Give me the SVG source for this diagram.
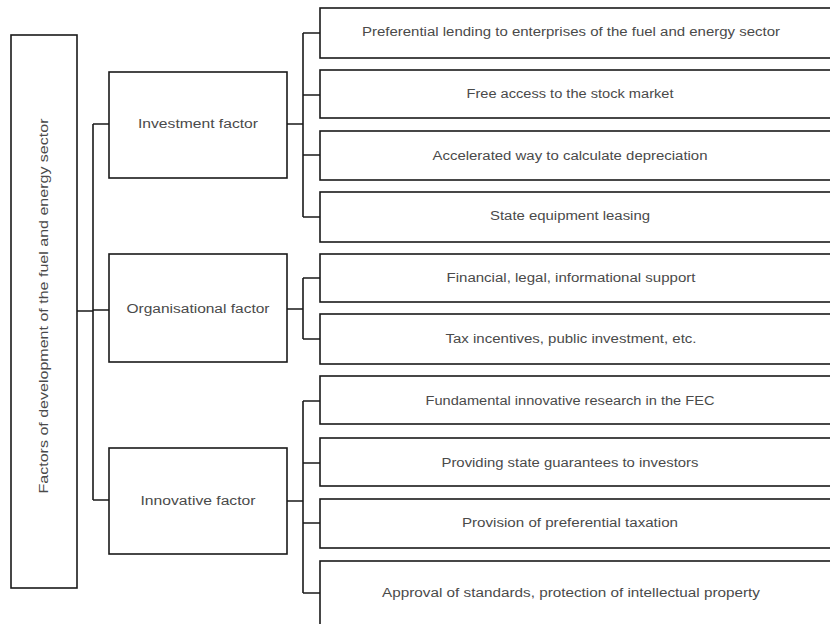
<svg xmlns="http://www.w3.org/2000/svg" width="830" height="624" viewBox="0 0 830 624">
<style>
rect{fill:#fff;stroke:#1a1a1a;stroke-width:1.6}
.c{fill:none;stroke:#1a1a1a;stroke-width:1.6}
text{font-family:"Liberation Sans",Arial,sans-serif;font-size:12.5px;fill:#4a4a4a;text-anchor:middle;dominant-baseline:central}
</style>
<rect x="0" y="0" width="830" height="624" style="stroke:none"/>
<g id="connectors">
<path class="c" d="M77 311H93M93 124V500M93 124H109M93 310H109M93 500H109"/>
<path class="c" d="M287 124H303M303 33V217M303 33H320M303 95H320M303 155H320M303 217H320"/>
<path class="c" d="M287 309H303M303 278V339M303 278H320M303 339H320"/>
<path class="c" d="M287 501H303M303 401V593M303 401H320M303 463H320M303 523H320M303 593H320"/>
</g>
<g id="root"><rect x="11" y="35" width="66" height="553"/><text transform="translate(44 306) rotate(-90)" textLength="375" lengthAdjust="spacingAndGlyphs">Factors of development of the fuel and energy sector</text></g>
<g id="investment"><rect x="109" y="72" width="178" height="106"/><text x="198" y="124" textLength="120" lengthAdjust="spacingAndGlyphs">Investment factor</text></g>
<g id="organisational"><rect x="109" y="254" width="178" height="108"/><text x="198" y="309" textLength="143" lengthAdjust="spacingAndGlyphs">Organisational factor</text></g>
<g id="innovative"><rect x="109" y="448" width="178" height="106"/><text x="198" y="501" textLength="115" lengthAdjust="spacingAndGlyphs">Innovative factor</text></g>
<g id="i1"><rect x="320" y="8" width="512" height="50"/><text x="571" y="32" textLength="418" lengthAdjust="spacingAndGlyphs">Preferential lending to enterprises of the fuel and energy sector</text></g>
<g id="i2"><rect x="320" y="70" width="512" height="48"/><text x="570" y="94" textLength="207" lengthAdjust="spacingAndGlyphs">Free access to the stock market</text></g>
<g id="i3"><rect x="320" y="131" width="512" height="49"/><text x="570" y="156" textLength="275" lengthAdjust="spacingAndGlyphs">Accelerated way to calculate depreciation</text></g>
<g id="i4"><rect x="320" y="192" width="512" height="50"/><text x="570" y="216" textLength="160" lengthAdjust="spacingAndGlyphs">State equipment leasing</text></g>
<g id="o1"><rect x="320" y="254" width="512" height="48"/><text x="571" y="278" textLength="249" lengthAdjust="spacingAndGlyphs">Financial, legal, informational support</text></g>
<g id="o2"><rect x="320" y="314" width="512" height="50"/><text x="571" y="339" textLength="251" lengthAdjust="spacingAndGlyphs">Tax incentives, public investment, etc.</text></g>
<g id="n1"><rect x="320" y="376" width="512" height="48"/><text x="570" y="401" textLength="289" lengthAdjust="spacingAndGlyphs">Fundamental innovative research in the FEC</text></g>
<g id="n2"><rect x="320" y="438" width="512" height="48"/><text x="570" y="463" textLength="257" lengthAdjust="spacingAndGlyphs">Providing state guarantees to investors</text></g>
<g id="n3"><rect x="320" y="499" width="512" height="49"/><text x="570" y="523" textLength="216" lengthAdjust="spacingAndGlyphs">Provision of preferential taxation</text></g>
<g id="n4"><rect x="320" y="561" width="512" height="70"/><text x="571" y="593" textLength="378" lengthAdjust="spacingAndGlyphs">Approval of standards, protection of intellectual property</text></g>
</svg>
